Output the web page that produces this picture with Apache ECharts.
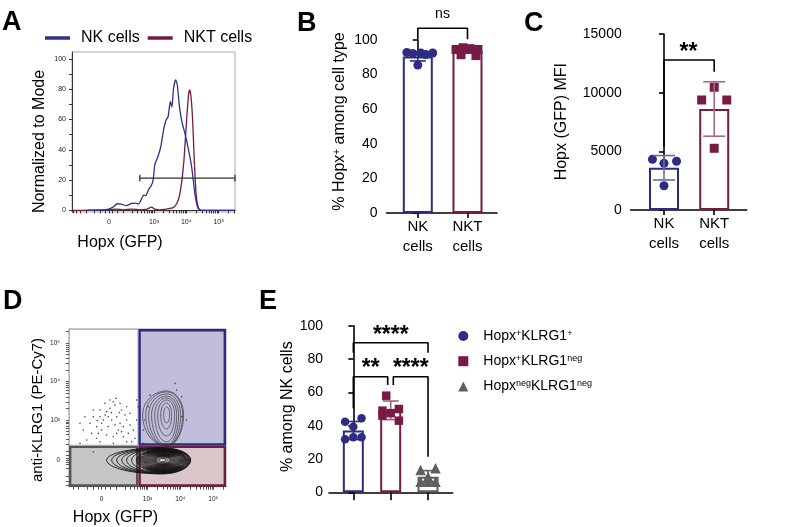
<!DOCTYPE html>
<html><head><meta charset="utf-8">
<script src="https://cdn.jsdelivr.net/npm/echarts@6/dist/echarts.min.js"></script>
<style>html,body{margin:0;padding:0;background:#fff}#c{width:787px;height:527px}</style>
</head><body><div id="c"></div>
<script>
// ================= DATA =================
// Panel A: histogram (x in display channels 0..1000, y = % of mode)
const histNKx  = [96,129,211,252,277,303,334,365,392,408,426,441,453,469,486,498,508,529,545,560,576,590,603,613,623,636,646,658,674,695,715,732,744,756,773,795,1000];
const histNKy  = [0,0.2,0.5,2.2,4.4,4.2,3.1,4.6,4.8,4.2,7.5,10.3,9.7,13.6,16.3,20.2,30.1,36.1,42.2,52.1,59.4,62,72,68.2,80.7,86.2,83,69.7,58.7,49.9,40,30.1,20.2,9.2,1.5,0,0];
const histNKTx = [0,47,129,211,273,314,365,416,461,488,508,539,580,621,642,658,672,687,703,715,722,730,740,750,761,773,789,826,1000];
const histNKTy = [0,0,0.2,0.4,0.9,0.4,0.9,0.4,0.9,2.2,0.9,0.4,0.9,1.8,4.4,9.2,18,33.4,59.8,76.3,79.6,75.2,59.8,33.4,11.4,2.6,0,0,0];
const gateA = [416, 1000, 21.3];            // from channel, to channel, level
const fluorTickVals = [0, 1e3, 1e4, 1e5];
const fluorTickLabels = ['0', '10³', '10⁴', '10⁵'];
const namesA = ['NK cells', 'NKT cells'];

// Panel B  (points: [jitter, value])
const catB = ['NK\ncells', 'NKT\ncells'];
const meanB = [90.5, 94.0];
const errB = [2.6, 1.6];
const ptsB_NK  = [[-0.22,92.8],[-0.1,92.2],[0.06,92.5],[0.16,91.6],[0.3,92.5],[0,85.5]];
const ptsB_NKT = [[-0.23,94.5],[-0.09,95.5],[0.05,95],[0.21,94.5],[-0.13,91.5],[0.17,91]];
const bracketB = [[0,100.5],[0,106.8],[1,106.8],[1,100.5]];

// Panel C
const catC = ['NK\ncells', 'NKT\ncells'];
const meanC = [3600, 8610];
const errC = [1040, 2320];
const ptsC_NK  = [[-0.23,4320],[0,3980],[0.25,4150],[0,2070]];
const ptsC_NKT = [[0,10460],[-0.25,9375],[0.25,9375],[0,5260]];
const bracketC = [[0,5455],[0,12784],[1,12784],[1,11787]];

// Panel D (display channels 0..1000 on both axes)
const gateD = [442, 260];
const quadPct = ['3.66', '31.8', '6.71', '57.9'];
// contour rings: [cx, cy, left, right, up, down]
const ringsUpper = [
 [622,455,19,19,51,51],[622,455,38,32,76,89],[622,455,57,51,95,133],[622,455,76,64,108,171],
 [622,455,96,76,120,190],[622,455,115,89,133,196],[622,455,134,102,146,196],[622,455,153,108,152,196]
];
const ringsLower = [
 [590,169,350,185,78,88],[590,169,318,182,76,86],[590,169,286,178,74,84],[590,169,254,174,72,82],
 [590,169,223,170,70,80],[590,169,191,166,68,78],[590,169,160,160,66,75],[590,169,150,156,65,74],
 [590,169,140,152,63,72],[590,169,132,148,62,70],[590,169,125,143,60,68],[590,169,118,138,58,66],
 [590,169,112,133,56,63],[590,169,106,128,54,61],[590,169,100,122,51,58],[590,169,94,117,49,56],
 [590,169,88,111,46,53],[590,169,82,106,44,50],[590,169,76,100,41,47],[590,169,70,94,39,44],
 [590,169,64,88,36,41],[590,169,58,82,34,38],[590,169,53,76,31,35],[590,169,48,70,29,32],
 [590,169,43,64,26,29],[590,169,38,58,24,26],[590,169,33,52,21,23],[590,169,24,40,15,17],
 [590,169,15,27,10,11]
];
const dotsD = [
 [282,539],[293,518],[261,497],[240,476],[197,444],[219,423],[155,444],[134,402],[176,381],[208,359],
 [250,381],[272,423],[304,444],[325,402],[314,359],[346,381],[367,423],[389,465],[378,338],[410,359],
 [420,307],[399,285],[346,317],[282,317],[240,328],[176,307],[113,296],[91,359],[144,338],[70,402],
 [431,423],[335,486],[261,550],[229,529],[325,529],[367,507],[197,486],[155,486],[293,391],[250,444],
 [208,402],[357,455],[389,391],[335,349],[304,338],[187,338],[102,444],[431,550],[516,581],[505,507],
 [484,423],[675,655],[686,613],[718,571],[749,423],[452,338],[473,359],[282,275],[197,285],[367,285],
 [441,507],[718,444],[473,275],[155,222],[70,275],[300,560],[270,470],[230,455],[320,470],[180,420]
];

// Panel E
const namesE = ['Hopx+KLRG1+', 'Hopx+KLRG1neg', 'HopxnegKLRG1neg'];
const meanE = [37.1, 49.2, 9.4];
const errE = [5.4, 5.6, 3.6];
const ptsE1 = [[-0.22,42.4],[0.22,44.4],[0,39.4],[-0.22,31.8],[0,33],[0.22,33]];
const ptsE2 = [[-0.12,58],[-0.22,49],[0.22,50],[0,47.5],[0.22,43],[-0.22,46]];
const ptsE3 = [[-0.2,13.4],[0.2,14.4],[0,9.4],[-0.2,6.4],[0,6.4],[0.2,6.4]];
const bracketE1 = [[0,83.8],[0,89.8],[2,89.8],[2,83.8]];
const bracketE2 = [[0,50.4],[0,69.4],[0.92,69.4],[0.92,64.4]];
const bracketE3 = [[1.07,64.4],[1.07,69.4],[2,69.4],[2,21.4]];

// ================= STYLE / SCALES =================
const FONT = 'Liberation Sans, Arial, Helvetica, sans-serif';
const NAVY = '#2d2c82', MAROON = '#781a46', GREY = '#5f5f5f';
const chA  = v => 226 + 86.3 * Math.asinh(v / 81);
const chDx = v => 208 + 91 * Math.asinh(v / 81);
const chDy = v => 169 + 106.2 * Math.asinh(v / 185);
const minorVals = (() => {
  const a = [-500,-400,-300,-200,-100,-50,-20,0,20,50,100,200,300,400,500,600,700,800,900];
  for (const d of [1e3,1e4,1e5]) for (let k = 1; k <= 9; k++) a.push(k*d);
  return a;
})();
const ticks = f => minorVals.map(f).filter(c => c >= 0 && c <= 1000);
const labelFor = f => v => {
  let best = 0, bd = 1e9;
  fluorTickVals.forEach((t,i) => { const d = Math.abs(f(t) - v); if (d < bd) { bd = d; best = i; } });
  return fluorTickLabels[best];
};
const zip = (xs, ys) => xs.map((x,i) => [x, ys[i]]);
const place = (pts, cat) => pts.map(p => [cat + p[0], p[1]]);

function errRender(colors, capHalf) {
  return function (params, api) {
    const x = api.value(0), m = api.value(1), e = api.value(2);
    const t = api.coord([x, m + e]), b = api.coord([x, m - e]);
    const st = {stroke: colors[params.dataIndex], lineWidth: 1.6};
    return {type: 'group', children: [
      {type:'line', shape:{x1:t[0],y1:t[1],x2:b[0],y2:b[1]}, style:st},
      {type:'line', shape:{x1:t[0]-capHalf,y1:t[1],x2:t[0]+capHalf,y2:t[1]}, style:st},
      {type:'line', shape:{x1:b[0]-capHalf,y1:b[1],x2:b[0]+capHalf,y2:b[1]}, style:st}
    ]};
  };
}
function ringRender(color, width) {
  return function (params, api) {
    const cx = api.value(0), cy = api.value(1), l = api.value(2), r = api.value(3), u = api.value(4), d = api.value(5);
    const pts = [];
    for (let i = 0; i <= 60; i++) {
      const t = i / 60 * Math.PI * 2, c = Math.cos(t), s = Math.sin(t);
      pts.push(api.coord([cx + c * (c >= 0 ? r : l), cy + s * (s >= 0 ? u : d)]));
    }
    return {type:'polyline', shape:{points:pts}, style:{fill:null, stroke:color, lineWidth:width}};
  };
}
const quads = [
  [0, gateD[1], gateD[0], 1000, '#ffffff', '#b5b5b5', 1],
  [gateD[0], gateD[1], 1000, 1000, '#c1bedb', '#2b2a7e', 2.4],
  [0, 0, gateD[0], gateD[1], '#c5c5c3', '#555555', 2.4],
  [gateD[0], 0, 1000, gateD[1], '#d8c6c8', '#6e1c40', 2.4]
];
function quadRender(params, api) {
  const q = quads[params.dataIndex];
  const p0 = api.coord([q[0], q[1]]), p1 = api.coord([q[2], q[3]]);
  const h = q[6] / 2;
  return {type:'rect', shape:{x:p0[0]+h, y:p1[1]+h, width:p1[0]-p0[0]-2*h, height:p0[1]-p1[1]-2*h},
          style:{fill:q[4], stroke:q[5], lineWidth:q[6]}};
}

const blackAxis = {lineStyle:{color:'#000', width:1.6}};
const tickNum = {fontFamily: FONT, fontSize: 14, color: '#000', formatter: v => String(v)};
const catAxis = (idx, min, max, cats) => ({
  gridIndex: idx, type:'value', min, max, splitLine:{show:false},
  axisLine: blackAxis, axisTick:{customValues: cats ? cats.map((_,i)=>i) : [0,1,2], length: cats ? 5 : 8, lineStyle:{color:'#000', width:1.6}},
  axisLabel: cats ? {customValues: cats.map((_,i)=>i), formatter: v => cats[Math.round(v)], fontFamily: FONT, fontSize: 15, lineHeight: 20, color:'#000', margin: 4} : {show:false}
});
const valAxis = (idx, max, step, margin) => {
  const vals = []; for (let v = 0; v <= max; v += step) vals.push(v);
  return {gridIndex: idx, type:'value', min:0, max, splitLine:{show:false}, axisLine: blackAxis,
    axisTick:{customValues: vals, length:5, lineStyle:{color:'#000', width:1.6}},
    axisLabel:Object.assign({customValues: vals, margin}, tickNum)};
};
const bracket = (data, xi) => ({type:'line', xAxisIndex:xi, yAxisIndex:xi, data, symbol:'none', clip:false, silent:true,
  lineStyle:{color:'#000', width:1.6}, z:5});
const dots = (color) => ({color, opacity: 1});

const txt = (text, x, y, size, opts) => Object.assign({type:'text', x, y, silent:true,
  style: Object.assign({text, fontFamily: FONT, fontSize: size, fill:'#000', textAlign:'center', align:'center',
    textVerticalAlign:'middle', verticalAlign:'middle'}, (opts && opts.style) || {})}, opts && opts.rot ? {rotation: Math.PI/2} : {});
const supRich = {n:{fontFamily:FONT, fontSize:16, fill:'#000', color:'#000'}, s:{fontFamily:FONT, fontSize:10, fill:'#000', color:'#000', verticalAlign:'top'}};
const legendRich = {n:{fontFamily:FONT, fontSize:14, color:'#000'}, s:{fontFamily:FONT, fontSize:9, color:'#000', verticalAlign:'top'}};
const legendFmt = {
  'Hopx+KLRG1+': '{n|Hopx}{s|+}{n|KLRG1}{s|+}',
  'Hopx+KLRG1neg': '{n|Hopx}{s|+}{n|KLRG1}{s|neg}',
  'HopxnegKLRG1neg': '{n|Hopx}{s|neg}{n|KLRG1}{s|neg}'
};

const option = {
  animation: false,
  backgroundColor: '#fff',
  legend: [
    {data: namesA, left: 45, top: 30, padding: 0, icon: 'rect', itemWidth: 25, itemHeight: 3.5, itemGap: 8,
     textStyle: {fontFamily: FONT, fontSize: 16, color: '#000', padding: [0,0,0,6]}, selectedMode: false},
    {data: namesE, orient: 'vertical', left: 458.3, top: 329, padding: 0, itemWidth: 10, itemHeight: 10, itemGap: 11.2,
     formatter: n => legendFmt[n], textStyle: {fontFamily: FONT, fontSize: 14, color:'#000', padding:[0,0,0,10], rich: legendRich}, selectedMode: false}
  ],
  grid: [
    {left: 72, top: 52, width: 163, height: 160, show: true, borderColor: '#aaa', borderWidth: 1},
    {left: 386.5, top: 40, width: 110.5, height: 173},
    {left: 630.7, top: 34, width: 116, height: 176},
    {left: 69, top: 329, width: 157, height: 157.7, show: true, borderColor: '#999', borderWidth: 1},
    {left: 329, top: 325.7, width: 123.7, height: 166.6}
  ],
  xAxis: [
    {gridIndex:0, type:'value', min:0, max:1000, splitLine:{show:false},
     axisLine:{lineStyle:{color:'#333', width:1}}, axisTick:{customValues: ticks(chA), length:3, lineStyle:{color:'#333'}},
     axisLabel:{customValues: fluorTickVals.map(chA), formatter: labelFor(chA), fontFamily: FONT, fontSize: 7, color:'#222', margin: 7}},
    catAxis(1, -0.63, 1.594, catB),
    catAxis(2, -0.663, 1.647, catC),
    {gridIndex:3, type:'value', min:0, max:1000, splitLine:{show:false},
     axisLine:{lineStyle:{color:'#555', width:1}}, axisTick:{customValues: ticks(chDx), length:3, lineStyle:{color:'#555'}},
     axisLabel:{customValues: fluorTickVals.map(chDx), formatter: labelFor(chDx), fontFamily: FONT, fontSize: 6.5, color:'#222', margin: 9}},
    catAxis(4, -0.651, 2.66, null)
  ],
  yAxis: [
    {gridIndex:0, type:'value', min:-1.05, max:104.6, splitLine:{show:false},
     axisLine:{show:true, lineStyle:{color:'#333', width:1}}, axisTick:{customValues:[0,10,20,30,40,50,60,70,80,90,100], length:3, lineStyle:{color:'#333'}},
     axisLabel:{customValues:[0,20,40,60,80,100], fontFamily: FONT, fontSize: 7, color:'#222', margin: 6}},
    valAxis(1, 100, 20, 9),
    valAxis(2, 15000, 5000, 9),
    {gridIndex:3, type:'value', min:0, max:1000, splitLine:{show:false},
     axisLine:{show:true, lineStyle:{color:'#555', width:1}}, axisTick:{customValues: ticks(chDy), length:3, lineStyle:{color:'#555'}},
     axisLabel:{customValues: fluorTickVals.map(chDy), formatter: labelFor(chDy), fontFamily: FONT, fontSize: 6.5, color:'#222', margin: 9}},
    valAxis(4, 100, 20, 6)
  ],
  series: [
    // ---- A ----
    {name: namesA[1], type:'line', xAxisIndex:0, yAxisIndex:0, data: zip(histNKTx, histNKTy), symbol:'none', smooth:0.2,
     color: MAROON, lineStyle:{color: MAROON, width:1.3}},
    {name: namesA[0], type:'line', xAxisIndex:0, yAxisIndex:0, data: zip(histNKx, histNKy), symbol:'none', smooth:0.2,
     color: '#2e3192', lineStyle:{color:'#2e3192', width:1.3}},
    {type:'line', xAxisIndex:0, yAxisIndex:0, symbol:'none', silent:true, lineStyle:{color:'#333', width:1.3},
     data: [[gateA[0], gateA[2]-2.2],[gateA[0], gateA[2]+2.2],[gateA[0], gateA[2]],[gateA[1], gateA[2]],[gateA[1], gateA[2]+2.2],[gateA[1], gateA[2]-2.2]], clip:false},
    // ---- B ----
    {type:'bar', xAxisIndex:1, yAxisIndex:1, barWidth: 30, z:2,
     data: meanB.map((m,i) => ({value:[i, m], itemStyle:{color:'#fff', borderColor: i ? MAROON : NAVY, borderWidth: 2}}))},
    {type:'custom', xAxisIndex:1, yAxisIndex:1, renderItem: errRender([NAVY, MAROON], 8), data: meanB.map((m,i)=>[i,m,errB[i]]), z:3},
    {type:'scatter', xAxisIndex:1, yAxisIndex:1, symbol:'circle', symbolSize:9, itemStyle:dots(NAVY), data: place(ptsB_NK, 0), z:4},
    {type:'scatter', xAxisIndex:1, yAxisIndex:1, symbol:'rect', symbolSize:9, itemStyle:dots(MAROON), data: place(ptsB_NKT, 1), z:4},
    bracket(bracketB, 1),
    // ---- C ----
    {type:'bar', xAxisIndex:2, yAxisIndex:2, barWidth: 30, z:2,
     data: meanC.map((m,i) => ({value:[i, m], itemStyle:{color:'#fff', borderColor: i ? MAROON : NAVY, borderWidth: 2}}))},
    {type:'scatter', xAxisIndex:2, yAxisIndex:2, symbol:'circle', symbolSize:9, itemStyle:dots(NAVY), data: place(ptsC_NK, 0), z:3},
    {type:'scatter', xAxisIndex:2, yAxisIndex:2, symbol:'rect', symbolSize:9, itemStyle:dots(MAROON), data: place(ptsC_NKT, 1), z:3},
    {type:'custom', xAxisIndex:2, yAxisIndex:2, renderItem: errRender(['#6b6aa6', '#a66a88'], 11), data: meanC.map((m,i)=>[i,m,errC[i]]), z:4},
    bracket(bracketC, 2),
    // ---- D ----
    {type:'custom', xAxisIndex:3, yAxisIndex:3, renderItem: quadRender, data: quads.map(q => [q[0], q[1]]), z:1, silent:true},
    {type:'scatter', xAxisIndex:3, yAxisIndex:3, symbolSize:1.6, itemStyle:dots('#444'), data: dotsD, z:2, silent:true},
    {type:'custom', xAxisIndex:3, yAxisIndex:3, renderItem: ringRender('#111111', 0.85), data: ringsLower, z:3, silent:true},
    {type:'custom', xAxisIndex:3, yAxisIndex:3, renderItem: ringRender('#3a3a3a', 0.7), data: ringsUpper, z:3, silent:true},
    // ---- E ----
    {type:'bar', xAxisIndex:4, yAxisIndex:4, barWidth: 21, z:2,
     data: meanE.map((m,i) => ({value:[i, m], itemStyle:{color:'#fff', borderColor: [NAVY, MAROON, GREY][i], borderWidth: 2}}))},
    {type:'custom', xAxisIndex:4, yAxisIndex:4, renderItem: errRender([NAVY, '#a0607c', GREY], 8), data: meanE.map((m,i)=>[i,m,errE[i]]), z:3},
    {name: namesE[0], type:'scatter', xAxisIndex:4, yAxisIndex:4, symbol:'circle', symbolSize:8.5, itemStyle:dots(NAVY), data: place(ptsE1, 0), z:4},
    {name: namesE[1], type:'scatter', xAxisIndex:4, yAxisIndex:4, symbol:'rect', symbolSize:8.5, itemStyle:dots(MAROON), data: place(ptsE2, 1), z:4},
    {name: namesE[2], type:'scatter', xAxisIndex:4, yAxisIndex:4, symbol:'triangle', symbolSize:10.5, itemStyle:dots(GREY), data: place(ptsE3, 2), z:4},
    bracket(bracketE1, 4), bracket(bracketE2, 4), bracket(bracketE3, 4)
  ],
  graphic: [
    txt('A', 2, 23, 27, {style:{fontWeight:'bold', textAlign:'left', align:'left'}}),
    txt('B', 297, 24, 27, {style:{fontWeight:'bold', textAlign:'left', align:'left'}}),
    txt('C', 524, 24, 27, {style:{fontWeight:'bold', textAlign:'left', align:'left'}}),
    txt('D', 3, 302, 27, {style:{fontWeight:'bold', textAlign:'left', align:'left'}}),
    txt('E', 259, 302, 27, {style:{fontWeight:'bold', textAlign:'left', align:'left'}}),
    txt('Normalized to Mode', 40, 141.5, 16, {rot:true}),
    txt('Hopx (GFP)', 120, 243, 16),
    txt('', 340, 121.5, 16, {rot:true, style:{text:'{n|% Hopx}{s|+}{n| among cell type}', rich: supRich}}),
    txt('Hopx (GFP) MFI', 561.7, 121.7, 16, {rot:true}),
    txt('anti-KLRG1 (PE-Cy7)', 37.5, 410, 15, {rot:true}),
    txt('Hopx (GFP)', 115.5, 518, 16),
    txt('% among NK cells', 288, 406.7, 16, {rot:true}),
    txt('ns', 442.5, 14.5, 14),
    txt('**', 688.5, 52.6, 23, {style:{fontWeight:'bold'}}),
    txt('****', 390.8, 336, 23, {style:{fontWeight:'bold'}}),
    txt('**', 370.8, 368.3, 23, {style:{fontWeight:'bold'}}),
    txt('****', 410.8, 368.3, 23, {style:{fontWeight:'bold'}}),
    txt(quadPct[0], 71, 342, 11.5, {style:{fill:'#3d3d96', textAlign:'left', align:'left'}}),
    txt(quadPct[1], 213, 342, 11.5, {style:{fill:'#3d3d96', textAlign:'right', align:'right'}}),
    txt(quadPct[2], 71, 474, 11.5, {style:{fill:'#3d3d96', fontWeight:'bold', textAlign:'left', align:'left'}}),
    txt(quadPct[3], 213, 474, 11.5, {style:{fill:'#3d3d96', fontWeight:'bold', textAlign:'right', align:'right'}})
  ]
};
const chart = echarts.init(document.getElementById('c'), null, {renderer: 'canvas'});
chart.setOption(option);
</script></body></html>
